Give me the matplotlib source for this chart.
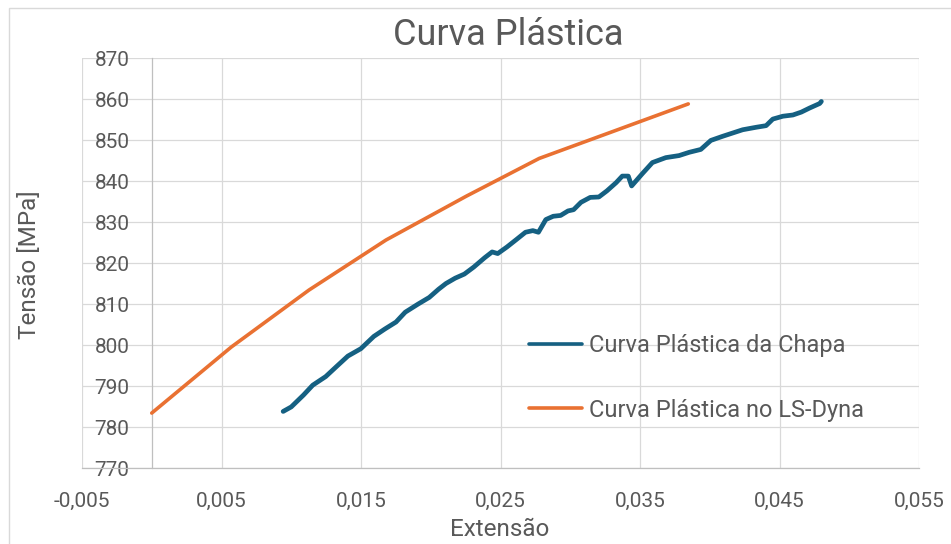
import matplotlib.pyplot as plt
from matplotlib.patches import Rectangle
from matplotlib.ticker import FuncFormatter

# === DADOS ===
# Curva Plástica da Chapa
ext_chapa = [0.00942, 0.01000, 0.01088, 0.01154, 0.01247, 0.01326, 0.01406, 0.01499,
             0.01592, 0.01671, 0.01751, 0.01817, 0.01910, 0.01989, 0.02056, 0.02109,
             0.02175, 0.02241, 0.02308, 0.02387, 0.02440, 0.02480, 0.02546, 0.02613,
             0.02679, 0.02732, 0.02772, 0.02825, 0.02878, 0.02931, 0.02984, 0.03024,
             0.03077, 0.03143, 0.03205, 0.03263, 0.03329, 0.03373, 0.03416, 0.03440,
             0.03517, 0.03589, 0.03685, 0.03780, 0.03853, 0.03936, 0.04008, 0.04092,
             0.04164, 0.04236, 0.04332, 0.04404, 0.04452, 0.04524, 0.04596, 0.04656,
             0.04716, 0.04788, 0.04800]
tensao_chapa = [783.8, 784.9, 787.8, 790.2, 792.3, 794.8, 797.3, 799.1,
                802.1, 803.9, 805.6, 808.0, 810.0, 811.6, 813.6, 815.0,
                816.3, 817.3, 819.0, 821.3, 822.7, 822.3, 823.9, 825.7,
                827.5, 827.9, 827.5, 830.6, 831.4, 831.6, 832.7, 833.0,
                834.8, 836.0, 836.1, 837.6, 839.6, 841.2, 841.2, 838.8,
                841.8, 844.5, 845.7, 846.2, 847.0, 847.7, 849.9, 850.9,
                851.7, 852.5, 853.1, 853.5, 855.1, 855.8, 856.1, 856.8,
                857.8, 858.9, 859.4]

# Curva Plástica no LS-Dyna
ext_dyna = [0.0, 0.0057, 0.01127, 0.01679, 0.02255, 0.02777, 0.03846]
tensao_dyna = [783.4, 799.5, 813.4, 825.6, 836.3, 845.5, 858.8]

x_ticks = [-0.005, 0.005, 0.015, 0.025, 0.035, 0.045, 0.055]
y_ticks = list(range(770, 871, 10))

cinza = '#595959'
plt.rcParams['font.family'] = ['Roboto', 'DejaVu Sans']

fig = plt.figure(figsize=(9.51, 5.44), dpi=100)
ax = fig.add_axes([82/951, 1-468/544, (919-82)/951, (468-58)/544])

ax.plot(ext_chapa, tensao_chapa, color='#156082', lw=3.4, label='Curva Plástica da Chapa',
        solid_capstyle='round', zorder=3)
ax.plot(ext_dyna, tensao_dyna, color='#E97132', lw=2.6, label='Curva Plástica no LS-Dyna',
        solid_capstyle='round', zorder=3)

ax.set_xlim(-0.005, 0.055)
ax.set_ylim(770, 870)
ax.set_xticks(x_ticks)
ax.set_yticks(y_ticks)
ax.xaxis.set_major_formatter(FuncFormatter(lambda v, p: f'{v:.3f}'.replace('.', ',')))
ax.grid(True, color='#D9D9D9', lw=0.9, zorder=0)
ax.set_axisbelow(True)

ax.spines['left'].set_position(('data', 0))
for s in ['left', 'bottom']:
    ax.spines[s].set_color('#BFBFBF')
    ax.spines[s].set_linewidth(0.9)
ax.spines['top'].set_visible(False)
ax.spines['right'].set_visible(False)
ax.tick_params(axis='x', length=0, pad=17, labelsize=15, labelcolor=cinza)
ax.tick_params(axis='y', length=0, pad=16, labelsize=15, labelcolor=cinza)

fig.text(508/951, 1-35/544, 'Curva Plástica', ha='center', va='center', fontsize=26, color=cinza)
fig.text(500/951, 1-529/544, 'Extensão', ha='center', va='center', fontsize=17.5, color=cinza)
fig.text(30/951, 1-265/544, 'Tensão [MPa]', ha='center', va='center', rotation=90,
         fontsize=17.5, color=cinza)

leg = ax.legend(loc='center left', bbox_to_anchor=(529/951, 1-378/544),
                bbox_transform=fig.transFigure, frameon=False, fontsize=17,
                handlelength=2.25, handletextpad=0.3, labelspacing=1.75,
                borderpad=0, borderaxespad=0)
for t in leg.get_texts():
    t.set_color(cinza)
for h in leg.get_lines():
    h.set_linewidth(2.6)

# moldura do gráfico
fig.patches.append(Rectangle((9/951, -0.05), 1.0, 1-8/544+0.05, transform=fig.transFigure,
                             fill=False, edgecolor='#D9D9D9', lw=1.0))

plt.savefig('out.png', dpi=100)
